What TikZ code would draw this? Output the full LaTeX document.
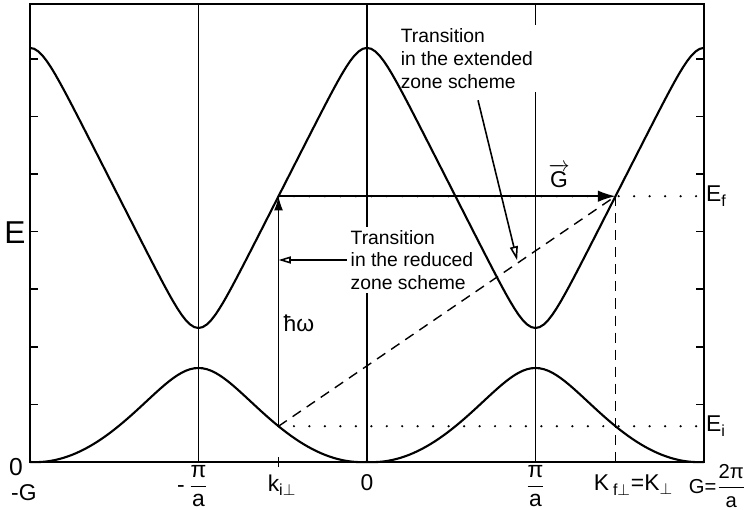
\documentclass[tikz,border=0pt]{standalone}
\usepackage{amsmath}
\usepackage{fontspec}
\setmainfont{Liberation Sans}
\usetikzlibrary{arrows.meta}
\usetikzlibrary{calc}

\begin{document}
\begin{tikzpicture}[x=3.37cm, y=1.152cm,
    declare function={
      lob(\x)=\x*\x-2*\x+2-sqrt(4*(\x-1)*(\x-1)+0.25);
      lower(\x)=1.632*(lob(1-abs(abs(\x)-1))+0.06155)/0.56155;
      ss(\x)=(ln(cosh(9*\x))-ln(cosh(9*(1-\x))))/9-\x*tanh(9);
      upper(\x)=2.326+4.864*(ss(abs(abs(\x)-1))+0.92298)/0.84596;
    },
    band/.style={line width=1.2pt},
    frame/.style={line width=1.1pt},
    guide/.style={line width=0.9pt},
    dotline/.style={line width=1.4pt, line cap=round, dash pattern=on 0pt off 8.8pt},
    dashline/.style={line width=0.8pt, dash pattern=on 5.7pt off 4pt},
    note/.style={align=left, font=\fontsize{11}{13}\selectfont, fill=white, inner sep=2pt},
    lbl/.style={font=\fontsize{13}{15}\selectfont}]
  \useasboundingbox (-2.178,-0.833) rectangle (2.297,8.021);

  % zone boundaries and frame
  \draw[guide] (-1,0) -- (-1,7.95);
  \draw[guide] (0,0) -- (0,7.95);
  \draw[guide] (1,0) -- (1,7.95);
  \draw[frame] (-2,0) rectangle (2,7.95);
  \foreach \e in {1,...,7} {
    \draw[guide] (-2,\e) -- ++(0.047,0);
    \draw[guide] (2,\e) -- ++(-0.047,0);
  }

  % notes
  \node[note] (red) at (0.267,3.507) {Transition\\in the reduced\\zone scheme};
  \node[note] (ext) at (0.593,7.0) {Transition\\in the extended\\zone scheme};

  % bands
  \draw[band] plot[domain=-2:2, samples=161] (\x,{upper(\x)});
  \draw[band] plot[domain=-2:2, samples=161] (\x,{lower(\x)});

  \pgfmathsetmacro\Ef{upper(-0.525)}
  \pgfmathsetmacro\Ei{lower(-0.525)}
  \coordinate (ilow) at (-0.525,\Ei);
  \coordinate (itop) at (-0.525,\Ef);
  \coordinate (ftop) at (1.475,\Ef);
  \coordinate (fbot) at (1.475,-0.09);
  \coordinate (kibot) at (-0.525,-0.09);
  \coordinate (kiax) at (-0.525,0.09);
  \coordinate (rEf) at (2,\Ef);
  \coordinate (rEi) at (2,\Ei);
  \coordinate (extfrom) at (0.659,6.28);

  % levels and transitions
  \draw[dotline] (itop) -- (rEf);
  \draw[dotline] (ilow) -- (rEi);
  \draw[guide, -{Latex[length=8pt,width=5pt]}] (ilow) -- (itop);
  \draw[guide, -{Latex[length=10pt,width=6.5pt]}] (itop) -- (ftop);
  \draw[dashline] (ilow) -- (ftop);
  \draw[dashline] (ftop) -- (fbot);
  \draw[guide] (kibot) -- (kiax);
  \draw[guide, -{Triangle[open,length=7pt,width=4pt]}] (red.west) -- (red.west -| itop);
  \draw[guide, shorten >=1.5pt, -{Triangle[open,length=8pt,width=4.5pt]}] (extfrom) -- ($(ilow)!0.71!(ftop)$);

  % labels
  \node[font=\fontsize{18}{18}\selectfont] (elab) at (-2.09,3.98) {E};
  \node[font=\fontsize{14}{16}\selectfont] (zerolab) at (-2.083,-0.087) {0};
  \node[lbl] (mglab) at (-2.036,-0.538) {-G};
  \node[lbl] (mpilab) at (-1,-0.42) {\llap{-\,}$\dfrac{\text{π}}{\text{a}}$};
  \node[lbl] (kilab) at (-0.504,-0.40) {k$_{\text{i}\perp}$};
  \node[lbl] (zerok) at (0,-0.365) {0};
  \node[lbl] (pilab) at (1,-0.42) {$\dfrac{\text{π}}{\text{a}}$};
  \node[lbl] (kflab) at (1.582,-0.40) {K\,$_{\text{f}\perp}$=K$_\perp$};
  \node[font=\fontsize{11.5}{13}\selectfont, inner sep=0pt] (gpilab) at (2.08,-0.42) {G=$\dfrac{\text{2π}}{\text{a}}$};
  \node[lbl, anchor=west, inner sep=1pt] (eflab) at (rEf) {E$_\text{f}$};
  \node[lbl, anchor=west, inner sep=1pt] (eilab) at (rEi) {E$_\text{i}$};
  \node[lbl] (hwlab) at (-0.404,2.41) {ħω};
  \node[lbl] (gveclab) at (1.14,4.965) {$\overrightarrow{\text{G}}$};
\end{tikzpicture}
\end{document}
